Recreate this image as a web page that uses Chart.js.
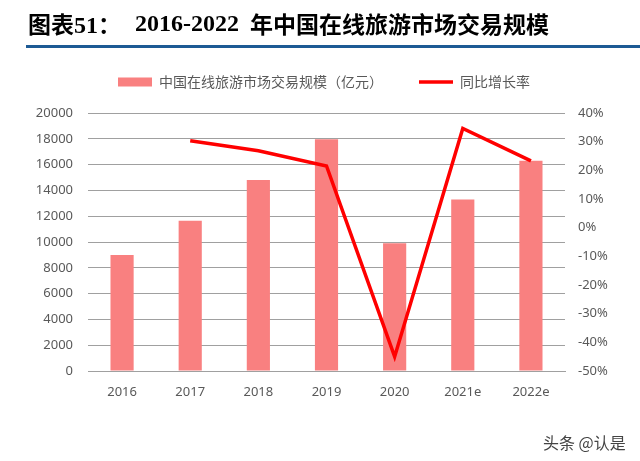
<!DOCTYPE html>
<html lang="zh">
<head>
<meta charset="UTF-8">
<title>2016-2022年中国在线旅游市场交易规模</title>
<script src="https://cdn.jsdelivr.net/npm/chart.js"></script>
<style>
  html, body { margin: 0; padding: 0; background: #fff; }
  #wrap { position: relative; width: 640px; height: 461px; overflow: hidden; }
  #box { position: absolute; left: 0; top: 0; width: 640px; height: 461px; }
  .title { position: absolute; top: 12px; line-height: 23px; font-size: 23px; font-weight: 700; color: #000; white-space: nowrap; z-index: 2; }
  .title .num { font-family: "Liberation Serif", serif; font-size: 24px; }
  .title .cjk { font-family: "Noto Sans CJK SC", sans-serif; }
  #rule { position: absolute; left: 26px; right: 0; top: 45px; height: 3px; background: #1d5a94; z-index: 2; }
  #mark { position: absolute; left: 543px; top: 430px; font-family: "Noto Sans CJK SC", sans-serif; font-size: 16px; color: #444; text-shadow: 0 0 2px #fff; z-index: 2; }
</style>
</head>
<body>
<div id="wrap">
  <div id="box"><canvas id="chart"></canvas></div>
  <div class="title" style="left:28px"><span class="cjk">图表</span><span class="num">51</span><span class="cjk">：</span></div>
  <div class="title" style="left:135px"><span class="num">2016-2022</span></div>
  <div class="title" style="left:250px"><span class="cjk">年中国在线旅游市场交易规模</span></div>
  <div id="rule"></div>
  <div id="mark">头条 @认是</div>
</div>
<script>
// 年份
const years = ["2016", "2017", "2018", "2019", "2020", "2021e", "2022e"];
// 交易规模（亿元）
const scale = [9000, 11650, 14800, 17960, 9900, 13300, 16300];
// 同比增长率（%）
const growth = [null, 30.3, 26.8, 21.5, -45, 34.6, 23.3];

const barLabel = "中国在线旅游市场交易规模（亿元）";
const lineLabel = "同比增长率";
const barColor = "#f98080";
const lineColor = "#ff0000";
const tickColor = "#595959";
const gridColor = "#a0a0a0";

// legend gets a bit more room below it
const legendGap = {
    id: "legendGap",
    beforeInit(chart) {
        const fit = chart.legend.fit;
        chart.legend.fit = function () {
            fit.bind(chart.legend)();
            this.height += 14;
        };
    }
};

new Chart(document.getElementById("chart"), {
    type: "bar",
    data: {
        labels: years,
        datasets: [
            {
                type: "bar",
                label: barLabel,
                data: scale,
                backgroundColor: barColor,
                barPercentage: 0.34,
                categoryPercentage: 1,
                yAxisID: "y",
                order: 1
            },
            {
                type: "line",
                label: lineLabel,
                data: growth,
                borderColor: lineColor,
                borderWidth: 3.5,
                pointRadius: 0,
                tension: 0,
                fill: false,
                yAxisID: "y2",
                order: 0
            }
        ]
    },
    options: {
        responsive: true,
        maintainAspectRatio: false,
        animation: false,
        layout: { padding: { top: 39, left: 8, right: 0, bottom: 0 } },
        plugins: {
            tooltip: { enabled: false },
            legend: {
                position: "top",
                labels: {
                    usePointStyle: true,
                    pointStyleWidth: 34,
                    boxHeight: 9,
                    padding: 36,
                    color: tickColor,
                    font: { family: "'Noto Sans CJK SC', sans-serif", size: 14 },
                    generateLabels: () => [
                        { text: barLabel, fillStyle: barColor, strokeStyle: barColor, lineWidth: 0, pointStyle: "rect", datasetIndex: 0, hidden: false, fontColor: tickColor },
                        { text: lineLabel, fillStyle: lineColor, strokeStyle: lineColor, lineWidth: 3.5, pointStyle: "line", datasetIndex: 1, hidden: false, fontColor: tickColor }
                    ]
                }
            }
        },
        scales: {
            x: {
                grid: { display: false, drawTicks: false },
                border: { display: true, color: gridColor },
                ticks: { color: tickColor, padding: 13, font: { family: "'Noto Sans', sans-serif", size: 13 } },
                afterFit: s => { s.height = 90; }
            },
            y: {
                position: "left",
                min: 0,
                max: 20000,
                ticks: { stepSize: 2000, color: tickColor, padding: 15, font: { family: "'Noto Sans', sans-serif", size: 13 }, callback: v => String(v) },
                grid: { color: gridColor, drawTicks: false },
                border: { display: false },
                afterFit: s => { s.width = 80; }
            },
            y2: {
                position: "right",
                min: -50,
                max: 40,
                ticks: { stepSize: 10, color: tickColor, padding: 13, font: { family: "'Noto Sans', sans-serif", size: 13 }, callback: v => v + "%" },
                grid: { display: false, drawTicks: false },
                border: { display: false },
                afterFit: s => { s.width = 75; }
            }
        }
    },
    plugins: [legendGap]
});
</script>
</body>
</html>
